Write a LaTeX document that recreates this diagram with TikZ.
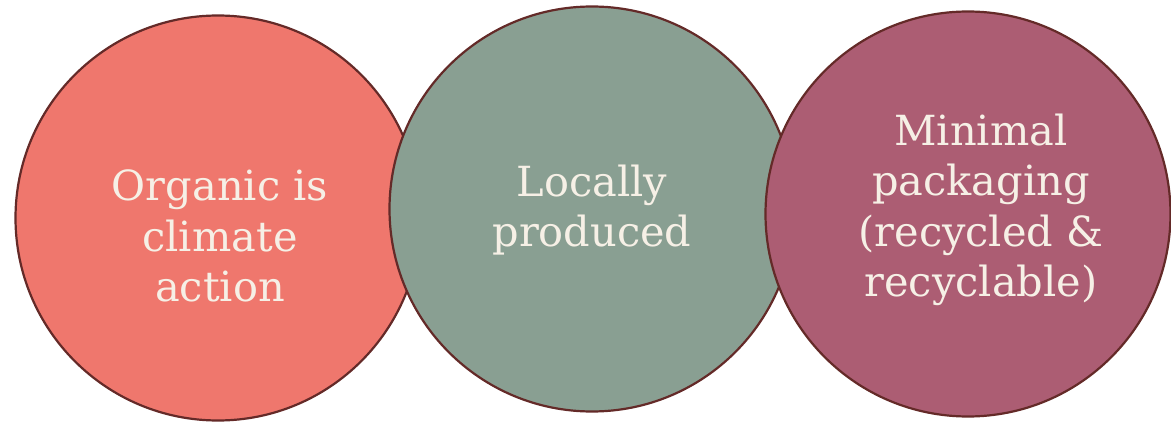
\documentclass[tikz,border=0pt]{standalone}
\usepackage{fontspec}
\setmainfont{DejaVu Serif}
\definecolor{salmon}{RGB}{239,119,109}
\definecolor{sage}{RGB}{137,159,146}
\definecolor{plum}{RGB}{172,93,115}
\definecolor{rim}{RGB}{100,42,40}
\definecolor{cream}{RGB}{246,240,230}
\tikzset{
  bubble/.style={circle,draw=rim,line width=2.2pt,minimum size=405pt,inner sep=0pt},
  caption/.style={text=cream,align=center,font=\fontsize{41.5}{50.5}\selectfont}
}
\begin{document}
\begin{tikzpicture}[x=1pt,y=-1pt]
\useasboundingbox (0,0) rectangle (1171,422);
\node[bubble,fill=salmon] (organic) at (218,218) {};
\node[bubble,fill=sage] (local) at (592,209) {};
\node[bubble,fill=plum] (packaging) at (968,214) {};
\node[caption] (organic-text) at (220,236) {Organic is\\climate\\action};
\node[caption] (local-text) at (592,210) {Locally\\produced};
\node[caption] (packaging-text) at (981,210) {Minimal\\packaging\\(recycled \&\\recyclable)};
\end{tikzpicture}
\end{document}
